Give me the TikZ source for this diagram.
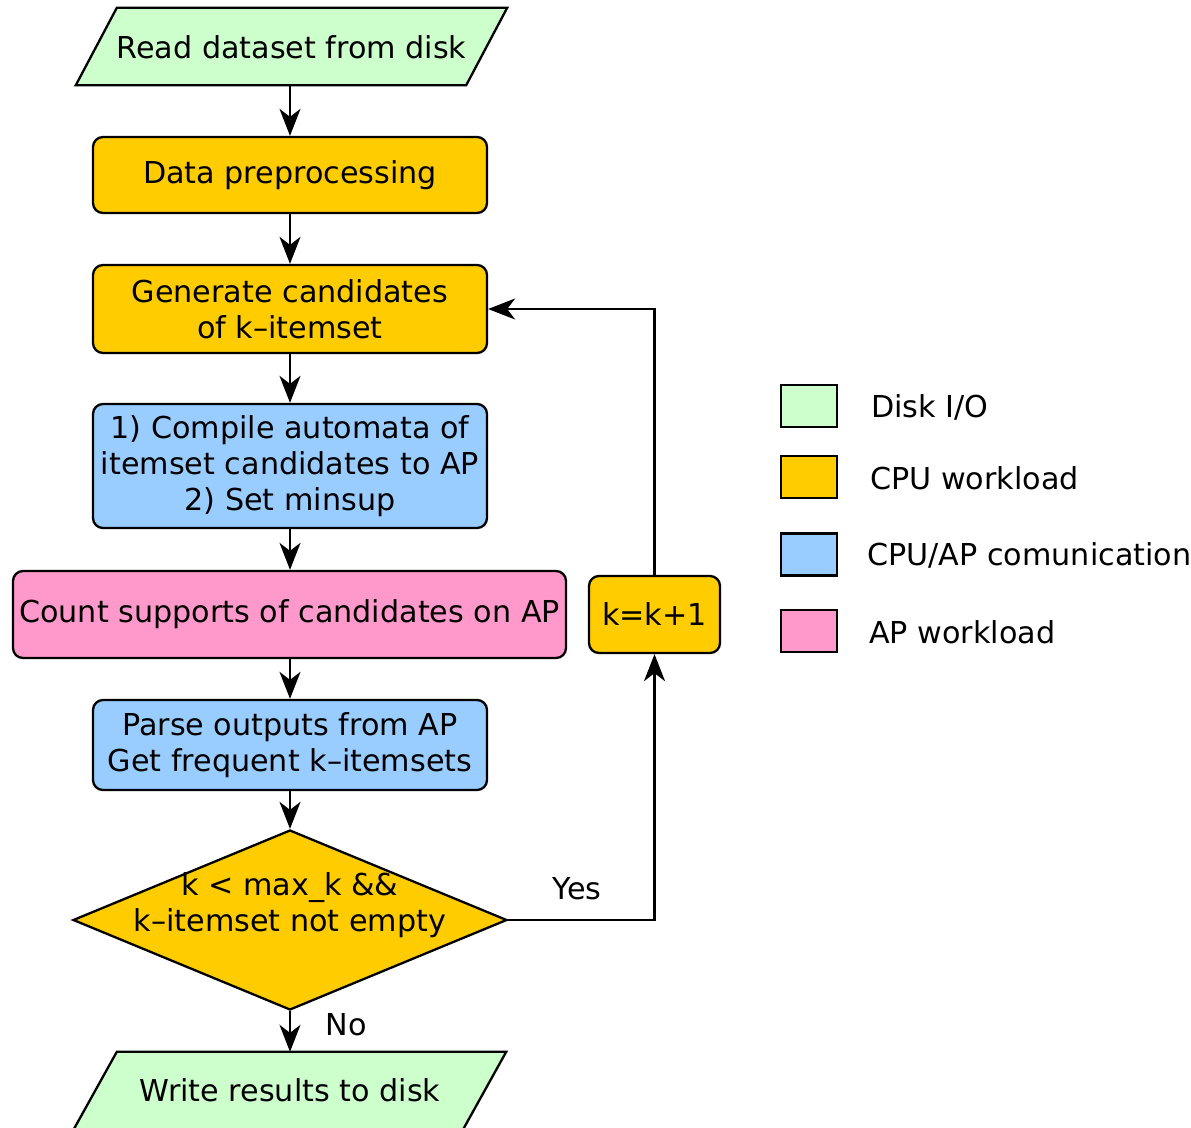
\documentclass[tikz,border=0pt]{standalone}
\usepackage{fontspec}
\setmainfont{DejaVu Sans}
\usetikzlibrary{arrows.meta,shapes.geometric,calc}
\definecolor{diskio}{HTML}{CCFFCC}
\definecolor{cpuw}{HTML}{FFCC00}
\definecolor{comm}{HTML}{99CCFF}
\definecolor{apw}{HTML}{FF99CC}
\pgfdeclarelayer{bg}
\pgfsetlayers{bg,main}

\begin{document}
\begin{tikzpicture}[x=1pt,y=-1pt,
  every node/.style={font=\fontsize{30.2}{36}\selectfont},
  proc/.style={draw, line width=2.3pt, rounded corners=10pt, align=center, inner sep=0pt},
  iobox/.style={inner sep=0pt, align=center},
  ioshape/.style={draw, line width=2.3pt, fill=diskio},
  flow/.style={line width=2.3pt, -{Stealth[length=27pt,width=21pt,inset=8pt]}},
  legbox/.style={draw, line width=2.3pt, minimum width=56pt, minimum height=42pt, inner sep=0pt},
  legtext/.style={anchor=west, inner sep=0pt},
  lbl/.style={inner sep=0pt}
]
\useasboundingbox (0,0) rectangle (1191,1127);

% input / output
\node[iobox, minimum width=431pt, minimum height=77pt] (read) at (291.5,47.5) {Read dataset from disk};
\node[iobox, minimum width=432pt, minimum height=77pt] (write) at (290,1090.5) {Write results to disk};
\begin{pgfonlayer}{bg}
  \draw[ioshape] ($(read.north west)+(41,-1)$) -- ($(read.north east)+(0,-1)$)
     -- ($(read.south east)+(-41,-1)$) -- ($(read.south west)+(0,-1)$) -- cycle;
  \draw[ioshape] ($(write.north west)+(43,0)$) -- (write.north east)
     -- ($(write.south east)+(-43,0)$) -- (write.south west) -- cycle;
\end{pgfonlayer}

% processing steps
\node[proc, fill=cpuw, minimum width=394pt, minimum height=76pt] (prep) at (290,175) {\raisebox{-2pt}{Data preprocessing}};
\node[proc, fill=cpuw, minimum width=394pt, minimum height=88pt] (gen) at (290,309) {Generate candidates\\of k–itemset};
\node[proc, fill=comm, minimum width=394pt, minimum height=124pt] (comp) at (290,466) {1) Compile automata of\\itemset candidates to AP\\2) Set minsup};
\node[proc, fill=apw, minimum width=553pt, minimum height=87pt] (count) at (289.5,614.5) {\raisebox{-2pt}{Count supports of candidates on AP}};
\node[proc, fill=cpuw, minimum width=131pt, minimum height=77pt] (inc) at (654.5,614.5) {k=k+1};
\node[proc, fill=comm, minimum width=394pt, minimum height=90pt] (parse) at (290,745) {Parse outputs from AP\\Get frequent k–itemsets};

% decision
\node[diamond, draw, line width=2.3pt, fill=cpuw, minimum width=434pt, minimum height=180pt, inner sep=0pt] (cond) at (290,920) {};
\node[lbl, align=center] (condtext) at (290,905) {k < max\_k \&\&\\k–itemset not empty};

% connectors
\draw[flow] (read.south -| prep.north) -- (prep.north);
\draw[flow] (prep) -- (gen);
\draw[flow] (gen) -- (comp);
\draw[flow] (comp.south) -- (count.north -| comp.south);
\draw[flow] (count.south -| parse.north) -- (parse.north);
\draw[flow] (parse) -- (cond);
\draw[flow] (cond) -- (write);
\draw[flow] (cond.east) -| (inc.south);
\draw[flow] (inc.north) |- (gen.east);

\node[lbl] (yes) at (577,889) {Yes};
\node[lbl] (no) at (346,1025) {No};

% legend
\node[legbox, fill=diskio] (lg1) at (809,406) {};
\node[legbox, fill=cpuw] (lg2) at (809,477) {};
\node[legbox, fill=comm] (lg3) at (809,554.5) {};
\node[legbox, fill=apw] (lg4) at (809,631) {};
\node[legtext] (lt1) at (871,407) {Disk I/O};
\node[legtext] (lt2) at (870,478) {CPU workload};
\node[legtext] (lt3) at (867,555.5) {CPU/AP comunication};
\node[legtext] (lt4) at (869,632) {AP workload};
\end{tikzpicture}
\end{document}
